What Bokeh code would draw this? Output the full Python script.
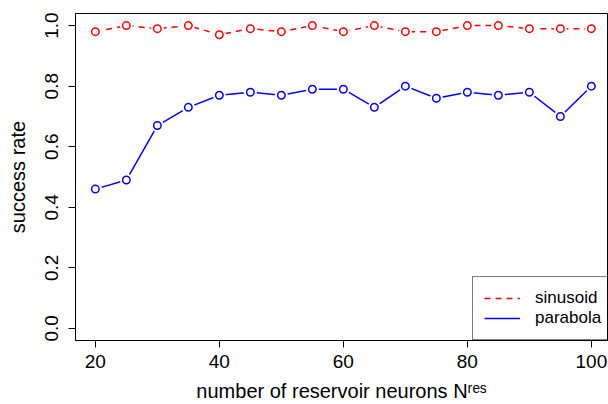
from bokeh.plotting import figure
from bokeh.models import Range1d, Legend, LegendItem, FixedTicker, PrintfTickFormatter
from bokeh.embed import file_html
from bokeh.resources import INLINE

# ---- data ----
n_res = [20, 25, 30, 35, 40, 45, 50, 55, 60, 65, 70, 75, 80, 85, 90, 95, 100]
sinusoid = [0.98, 1.00, 0.99, 1.00, 0.97, 0.99, 0.98, 1.00, 0.98, 1.00,
            0.98, 0.98, 1.00, 1.00, 0.99, 0.99, 0.99]
parabola = [0.46, 0.49, 0.67, 0.73, 0.77, 0.78, 0.77, 0.79, 0.79, 0.73,
            0.80, 0.76, 0.78, 0.77, 0.78, 0.70, 0.80]
x_ticks = [20, 40, 60, 80, 100]
y_ticks = [0.0, 0.2, 0.4, 0.6, 0.8, 1.0]
series_names = ["sinusoid", "parabola"]
x_label = "number of reservoir neurons N\u02b3\u1d49\u02e2"
y_label = "success rate"

FONT = "Liberation Sans"
RED = "#FF0000"
BLUE = "#0000FF"

p = figure(width=608, height=404, output_backend="svg", toolbar_location=None,
           x_range=Range1d(16.8, 102.6), y_range=Range1d(-0.04, 1.04),
           min_border_left=75, min_border_right=1, min_border_top=13,
           min_border_bottom=62)

p.grid.visible = False
p.outline_line_color = "black"
p.outline_line_width = 1
p.outline_line_alpha = 1
p.background_fill_color = "white"
p.border_fill_color = "white"

for ax in (p.xaxis[0], p.yaxis[0]):
    ax.axis_line_color = "black"
    ax.axis_line_width = 1
    ax.major_tick_line_color = "black"
    ax.major_tick_in = 0
    ax.major_tick_out = 7
    ax.minor_tick_line_color = None
    ax.major_label_text_font = FONT
    ax.major_label_text_font_size = "19px"
    ax.major_label_text_color = "black"
    ax.axis_label_text_font = FONT
    ax.axis_label_text_font_size = "20px"
    ax.axis_label_text_font_style = "normal"
    ax.axis_label_text_color = "black"

p.xaxis.ticker = FixedTicker(ticks=x_ticks)
p.yaxis.ticker = FixedTicker(ticks=y_ticks)
p.yaxis.formatter = PrintfTickFormatter(format="%.1f")
p.yaxis.major_label_orientation = "vertical"
p.xaxis.major_label_text_line_height = 0.6
p.xaxis.axis_label_text_line_height = 0.6
p.xaxis.major_label_standoff = 7
p.yaxis.major_label_standoff = 10
p.xaxis.axis_label = x_label
p.yaxis.axis_label = y_label
p.xaxis.axis_label_standoff = 9
p.yaxis.axis_label_standoff = 14

# sinusoid (dashed red)
l_sin = p.line(n_res, sinusoid, line_color=RED, line_width=1.5, line_dash="6 5")
p.scatter(n_res, sinusoid, size=13, fill_color="white", line_color=None)
p.scatter(n_res, sinusoid, size=7.5, fill_color="white", line_color=RED, line_width=1.5)

# parabola (solid blue)
l_par = p.line(n_res, parabola, line_color=BLUE, line_width=1.5)
p.scatter(n_res, parabola, size=13, fill_color="white", line_color=None)
p.scatter(n_res, parabola, size=7.5, fill_color="white", line_color=BLUE, line_width=1.5)

legend = Legend(items=[LegendItem(label=series_names[0], renderers=[l_sin]),
                       LegendItem(label=series_names[1], renderers=[l_par])],
                location=(397, 0), margin=0, padding=11, spacing=0,
                glyph_width=36, glyph_height=20, label_height=20,
                label_standoff=15,
                label_text_font=FONT, label_text_font_size="17px",
                label_text_color="black",
                border_line_color="black", border_line_width=1,
                background_fill_color="white", background_fill_alpha=1)
p.add_layout(legend, "center")

open("out.html", "w").write(file_html(p, INLINE))
